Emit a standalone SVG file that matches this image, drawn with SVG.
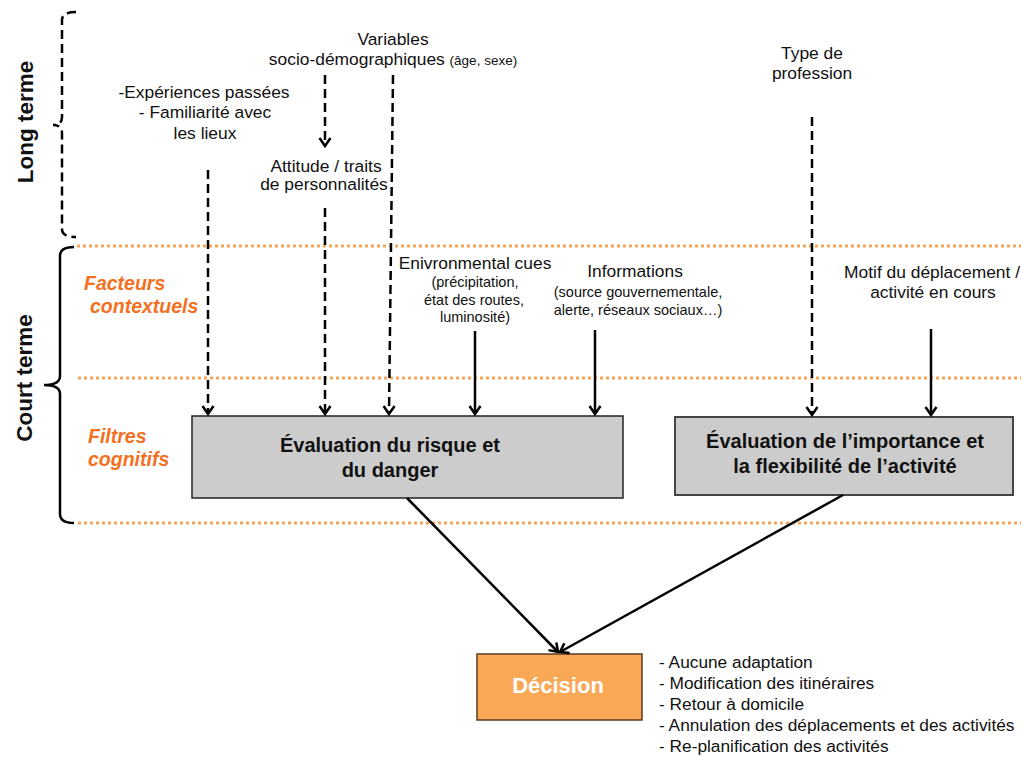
<svg xmlns="http://www.w3.org/2000/svg" width="1021" height="758" viewBox="0 0 1021 758">
<style>
text{font-family:"Liberation Sans",Arial,sans-serif;fill:#111}
.t{font-size:17.4px;text-anchor:middle}
.s{font-size:14.5px;text-anchor:middle}
.side{font-size:22.5px;font-weight:bold;text-anchor:middle}
.or{font-size:19.5px;font-weight:bold;font-style:italic;fill:#F4701F}
.bx{font-size:20px;font-weight:bold;text-anchor:middle}
.li{font-size:17.3px}
.sep{stroke:#F8A45A;stroke-width:3;stroke-dasharray:3 3;fill:none}
.dash{stroke:#000;stroke-width:2.5;stroke-dasharray:9 5;fill:none}
.solid{stroke:#000;stroke-width:2.5;fill:none}
</style>
<defs>
<marker id="ah" markerUnits="userSpaceOnUse" viewBox="-11 -8 13 16" refX="0" refY="0" markerWidth="13" markerHeight="16" orient="auto">
<path d="M -8 -5.5 L 0 0 L -8 5.5" fill="none" stroke="#000" stroke-width="2.5"/>
</marker>
</defs>
<rect width="1021" height="758" fill="#fff"/>

<g id="separators">
<line class="sep" x1="77" y1="246" x2="1021" y2="246"/>
<line class="sep" x1="78" y1="378" x2="1021" y2="378"/>
<line class="sep" x1="78" y1="523" x2="1021" y2="523"/>
</g>

<g id="long-terme">
<path class="dash" stroke-dasharray="8 4" d="M 76 12 Q 62 12 62 20 V 117 Q 62 125 53 125 Q 62 125 62 133 V 229 Q 62 237 76 237"/>
<text class="side" transform="translate(33,122) rotate(-90)">Long terme</text>
</g>

<g id="court-terme">
<path class="solid" d="M 74 247 Q 60 247 60 256 V 376 Q 60 385 44 385 Q 60 385 60 394 V 514 Q 60 523 74 523"/>
<text class="side" transform="translate(32,378) rotate(-90)">Court terme</text>
</g>

<g id="labels-rows">
<text class="or" x="84" y="290">Facteurs</text>
<text class="or" x="90" y="313">contextuels</text>
<text class="or" x="88" y="443">Filtres</text>
<text class="or" x="88" y="466">cognitifs</text>
</g>

<g id="experiences">
<text class="t" x="204" y="98">-Expériences passées</text>
<text class="t" x="205" y="118">- Familiarité avec</text>
<text class="t" x="205" y="139">les lieux</text>
</g>

<g id="variables">
<text class="t" x="393" y="45">Variables</text>
<text class="t" x="393" y="65">socio-démographiques <tspan font-size="13.5">(âge, sexe)</tspan></text>
</g>

<g id="attitude">
<text class="t" x="326" y="172">Attitude / traits</text>
<text class="t" x="324" y="190">de personnalités</text>
</g>

<g id="type-profession">
<text class="t" x="812" y="59">Type de</text>
<text class="t" x="812" y="79">profession</text>
</g>

<g id="environmental">
<text class="t" x="475" y="269">Enivronmental cues</text>
<text class="s" x="475" y="287">(précipitation,</text>
<text class="s" x="474" y="305">état des routes,</text>
<text class="s" x="475" y="322">luminosité)</text>
</g>

<g id="informations">
<text class="t" x="635" y="277">Informations</text>
<text class="s" x="638" y="297">(source gouvernementale,</text>
<text class="s" x="638" y="315">alerte, réseaux sociaux…)</text>
</g>

<g id="motif">
<text class="t" x="932" y="278">Motif du déplacement /</text>
<text class="t" x="933" y="298">activité en cours</text>
</g>

<g id="eval-risque">
<rect x="192" y="416" width="431" height="82" fill="#CCCCCC" stroke="#222" stroke-width="1.5"/>
<text class="bx" x="390" y="452">Évaluation du risque et</text>
<text class="bx" x="390" y="477">du danger</text>
</g>

<g id="eval-importance">
<rect x="675" y="417" width="338" height="78" fill="#CCCCCC" stroke="#444" stroke-width="2"/>
<text class="bx" x="845" y="448">Évaluation de l’importance et</text>
<text class="bx" x="845" y="473">la flexibilité de l’activité</text>
</g>

<g id="decision">
<rect x="477" y="654" width="165" height="66" fill="#F9A856" stroke="#5a3d22" stroke-width="1.5"/>
<text x="558" y="693" font-size="22" font-weight="bold" text-anchor="middle" style="fill:#fff">Décision</text>
</g>

<g id="decision-options">
<text class="li" x="659" y="668">- Aucune adaptation</text>
<text class="li" x="659" y="689">- Modification des itinéraires</text>
<text class="li" x="659" y="710">- Retour à domicile</text>
<text class="li" x="659" y="731">- Annulation des déplacements et des activités</text>
<text class="li" x="659" y="752">- Re-planification des activités</text>
</g>

<g id="connectors">
<line class="dash" x1="208" y1="170" x2="208" y2="414" marker-end="url(#ah)"/>
<line class="dash" x1="325" y1="75" x2="325" y2="146" marker-end="url(#ah)"/>
<line class="dash" x1="325" y1="208" x2="325" y2="414" marker-end="url(#ah)"/>
<line class="dash" x1="393" y1="75" x2="389" y2="414" marker-end="url(#ah)"/>
<line class="solid" x1="475" y1="331" x2="475" y2="414" marker-end="url(#ah)"/>
<line class="solid" x1="595" y1="330" x2="595" y2="414" marker-end="url(#ah)"/>
<line class="dash" x1="812" y1="117" x2="812" y2="415" marker-end="url(#ah)"/>
<line class="solid" x1="931" y1="329" x2="931" y2="415" marker-end="url(#ah)"/>
<line class="solid" x1="407" y1="498" x2="558" y2="652" marker-end="url(#ah)"/>
<line class="solid" x1="843" y1="495" x2="560" y2="652" marker-end="url(#ah)"/>
</g>
</svg>
